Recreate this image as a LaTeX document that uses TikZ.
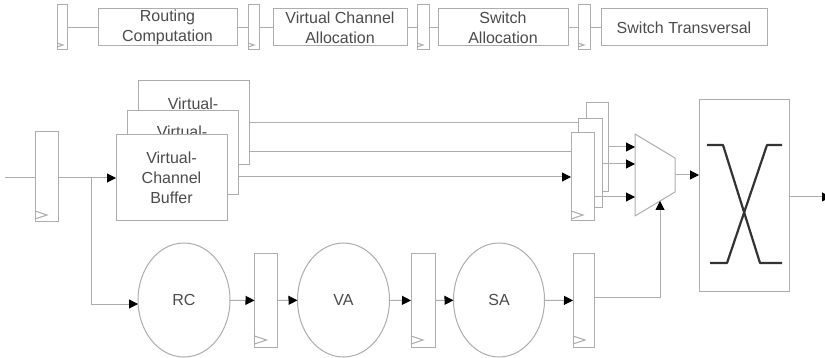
\documentclass[tikz,border=0pt]{standalone}
\usepackage{fontspec}
\setmainfont{Liberation Sans}
\usetikzlibrary{arrows.meta,shapes.geometric}
\definecolor{ln}{gray}{0.68}
\definecolor{tx}{gray}{0.3}
\tikzset{
  x=1pt,y=-1pt,
  wire/.style={draw=ln,line width=1pt},
  arrowwire/.style={wire,-{Triangle[length=9pt,width=9pt,color=black]}},
  boxed/.style={rectangle,draw=ln,line width=1pt,fill=white,inner sep=0pt,outer sep=0pt,anchor=north west,text=tx,align=center,font=\fontsize{16}{20}\selectfont},
  label text/.style={text=tx,inner sep=0pt,font=\fontsize{16}{20}\selectfont},
  regbox/.style={boxed},
  round stage/.style={ellipse,draw=ln,line width=1pt,fill=white,inner sep=0pt,outer sep=0pt,minimum width=92pt,minimum height=114pt,text=tx,font=\fontsize{16}{20}\selectfont},
  clock/.style={draw=ln,line width=1pt},
  switch line/.style={draw=black!80,line width=2.2pt,line join=round}
}
\begin{document}
\begin{tikzpicture}
\clip (0,0) rectangle (825,358);
\fill[white] (0,0) rectangle (825,358);

% top pipeline
\node[regbox,minimum width=10pt,minimum height=45pt] (t1) at (57,5) {};
\node[boxed,minimum width=139pt,minimum height=37pt] (rcbox) at (98,9) {Routing\\Computation};
\node[regbox,minimum width=11pt,minimum height=45pt] (t2) at (248,5) {};
\node[boxed,minimum width=134pt,minimum height=37pt] (vabox) at (273,9) {Virtual Channel\\Allocation};
\node[regbox,minimum width=12pt,minimum height=45pt] (t3) at (417,5) {};
\node[boxed,minimum width=130pt,minimum height=37pt] (sabox) at (438,9) {Switch\\Allocation};
\node[regbox,minimum width=12pt,minimum height=45pt] (t4) at (578,5) {};
\node[boxed,minimum width=166pt,minimum height=37pt] (stbox) at (601,9) {Switch Transversal};
\draw[wire] (t1)--(rcbox);
\draw[wire] (rcbox)--(t2);
\draw[wire] (t2)--(vabox);
\draw[wire] (vabox)--(t3);
\draw[wire] (t3)--(sabox);
\draw[wire] (sabox)--(t4);
\draw[wire] (t4)--(stbox);
\foreach \r in {t1,t2,t3,t4}
  \draw[clock] ([yshift=7pt]\r.south west) -- ++(6,2) -- ++(-6,2);

% right hand registers (back to front) and buffers
\node[regbox,minimum width=22pt,minimum height=89pt] (rb) at (586,103) {};
\node[regbox,minimum width=24pt,minimum height=89pt] (rm) at (578,119) {};
\node[regbox,minimum width=23pt,minimum height=88pt] (rf) at (571,133) {};
\node[boxed,minimum width=111pt,minimum height=84pt] (bufb) at (138,81) {};
\node[label text] (bufbt) at (193,104) {Virtual-};
\node[boxed,minimum width=111pt,minimum height=84pt] (bufm) at (127,111) {};
\node[label text] (bufmt) at (182,132) {Virtual-};
\node[boxed,minimum width=111pt,minimum height=86pt] (buff) at (116,135) {Virtual-\\Channel\\Buffer};

\draw[wire] (bufb.east |- 0,123) -- (rm.west |- 0,123);
\draw[wire] (bufb.east |- 0,152) -- (rf.west |- 0,152);
\draw[arrowwire] (bufm.east |- 0,177) -- (rf.west |- 0,177);
\draw[clock] ([yshift=10pt]rf.south west) -- ++(12,4) -- ++(-12,4);

% input
\node[regbox,minimum width=23pt,minimum height=90pt] (inr) at (35,132) {};
\draw[clock] ([yshift=11pt]inr.south west) -- ++(12,4) -- ++(-12,4);
\coordinate (instart) at (5,178);
\coordinate (branch) at (91,178);
\draw[wire] (instart) -- (inr.west |- instart);
\draw[arrowwire] (inr.east |- instart) -- (buff.west |- instart);

% lower pipeline
\node[round stage] (rc) at (184,300) {RC};
\node[regbox,minimum width=23pt,minimum height=93pt] (r1) at (254.5,254) {};
\node[round stage] (va) at (343.5,300) {VA};
\node[regbox,minimum width=24pt,minimum height=93pt] (r2) at (411,254) {};
\node[round stage,minimum width=91pt] (sa) at (499,300) {SA};
\node[regbox,minimum width=21pt,minimum height=93pt] (r3) at (573,254) {};
\draw[arrowwire] (branch) |- (rc.west |- 0,304);
\draw[arrowwire] (rc) -- (r1);
\draw[arrowwire] (r1) -- (va);
\draw[arrowwire] (va) -- (r2);
\draw[arrowwire] (r2) -- (sa);
\draw[arrowwire] (sa) -- (r3);
\foreach \r in {r1,r2,r3}
  \draw[clock] ([yshift=11pt]\r.south west) -- ++(12,4) -- ++(-12,4);

% multiplexer
\coordinate (m1) at (635,134);
\coordinate (m2) at (675,158);
\coordinate (m3) at (675,192);
\coordinate (m4) at (635,216);
\coordinate (mbottom) at (660,201);
\draw[wire,fill=white,line join=round] (m1) -- (m2) -- (m3) -- (m4) -- cycle;
\draw[arrowwire] (rb.east |- 0,147) -- (m1 |- 0,147);
\draw[arrowwire] (rm.east |- 0,164) -- (m1 |- 0,164);
\draw[arrowwire] (rf.east |- 0,197) -- (m1 |- 0,197);
\draw[arrowwire] (r3.east |- 0,297) -| (mbottom);

% crossbar
\node[boxed,minimum width=90pt,minimum height=192pt] (xb) at (699,100) {};
\draw[arrowwire] (m2 |- 0,175) -- (xb.west |- 0,175);
\draw[switch line] (707,145) -- (723,145) -- (760,263) -- (782,263);
\draw[switch line] (710,263) -- (727,263) -- (767,145) -- (782,145);
\coordinate (outend) at (831,197);
\draw[arrowwire] (xb.east |- outend) -- (outend);
\end{tikzpicture}
\end{document}
